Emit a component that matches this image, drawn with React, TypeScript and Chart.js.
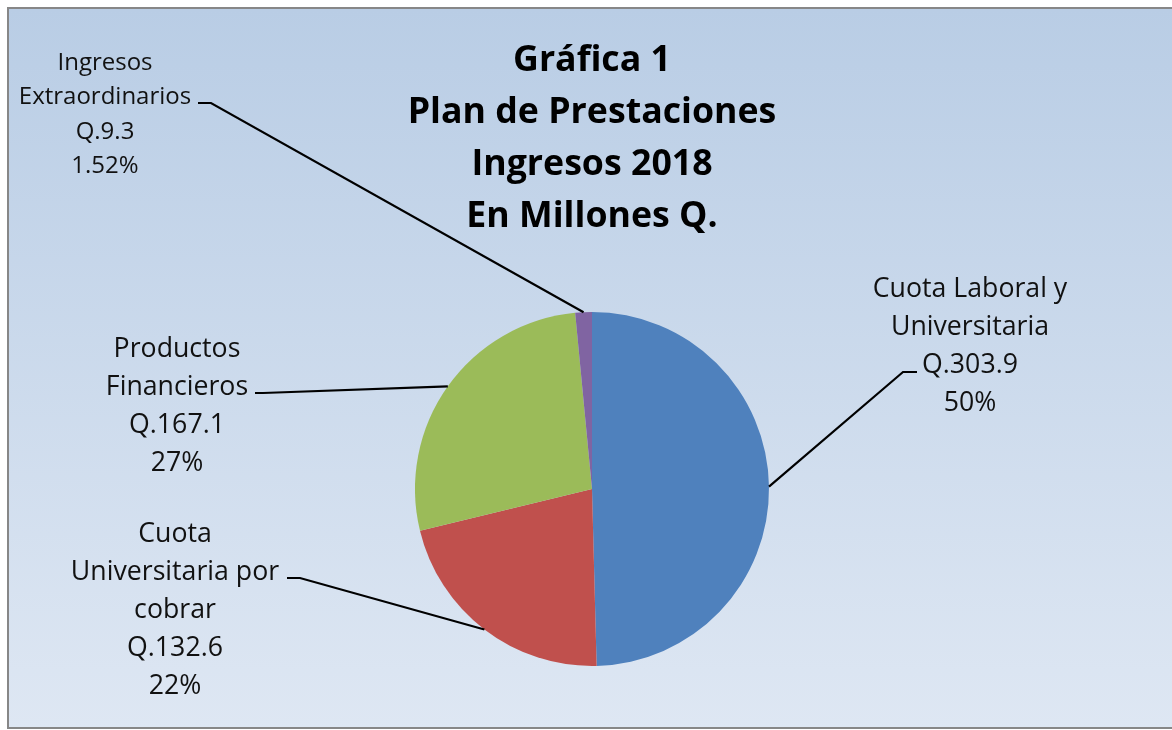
import React, { useEffect, useRef } from "react";
import { Chart, registerables } from "chart.js";

Chart.register(...registerables);

const categories: string[][] = [
  ["Cuota Laboral y", "Universitaria"],
  ["Cuota", "Universitaria por", "cobrar"],
  ["Productos", "Financieros"],
  ["Ingresos", "Extraordinarios"],
];
const values: number[] = [303.9, 132.6, 167.1, 9.3];
const valueLabels: string[] = ["Q.303.9", "Q.132.6", "Q.167.1", "Q.9.3"];
const percentLabels: string[] = ["50%", "22%", "27%", "1.52%"];
const titleLines: string[] = ["Gráfica 1", "Plan de Prestaciones", "Ingresos 2018", "En Millones Q."];
const colors: string[] = ["#4f81bd", "#c0504d", "#9bbb59", "#8064a2"];

// label layout: text center x, first line center y, line height, font size, stub text-side point, elbow point
const labelLayout = [
  { cx: 970, y0: 289, lh: 38, fs: 26.7, stubA: [917, 372], stubB: [903, 372] },
  { cx: 175, y0: 534, lh: 38, fs: 26.7, stubA: [287, 578], stubB: [300, 578] },
  { cx: 177, y0: 349, lh: 38, fs: 26.7, stubA: [255, 393], stubB: [263, 393] },
  { cx: 105, y0: 63, lh: 34.5, fs: 24, stubA: [198, 103], stubB: [211, 103] },
];

const FONT = "'Open Sans', Lato, sans-serif";

const labelsPlugin = {
  id: "customLabels",
  afterDraw(chart: any) {
    const ctx = chart.ctx as CanvasRenderingContext2D;
    ctx.save();
    // title
    ctx.fillStyle = "#000";
    ctx.textAlign = "center";
    ctx.textBaseline = "middle";
    ctx.font = `bold 35.7px ${FONT}`;
    titleLines.forEach((t, i) => ctx.fillText(t, 592, 61 + i * 52));

    const meta = chart.getDatasetMeta(0);
    meta.data.forEach((arc: any, i: number) => {
      const L = labelLayout[i];
      const p = arc.getProps(["x", "y", "startAngle", "endAngle", "outerRadius"], true);
      const mid = (p.startAngle + p.endAngle) / 2;
      const ex = p.x + Math.cos(mid) * p.outerRadius;
      const ey = p.y + Math.sin(mid) * p.outerRadius;
      ctx.strokeStyle = "#000";
      ctx.lineWidth = 2.2;
      ctx.beginPath();
      ctx.moveTo(L.stubA[0], L.stubA[1]);
      ctx.lineTo(L.stubB[0], L.stubB[1]);
      ctx.lineTo(ex, ey);
      ctx.stroke();

      const lines = [...categories[i], valueLabels[i], percentLabels[i]];
      ctx.font = `${L.fs}px ${FONT}`;
      ctx.fillStyle = "#111";
      lines.forEach((t, j) => ctx.fillText(t, L.cx, L.y0 + j * L.lh));
    });
    ctx.restore();
  },
};

export default function App() {
  const ref = useRef<HTMLCanvasElement | null>(null);
  useEffect(() => {
    if (!ref.current) return;
    const chart = new Chart(ref.current, {
      type: "pie",
      data: {
        labels: categories.map((c) => c.join(" ")),
        datasets: [
          {
            data: values,
            backgroundColor: colors,
            borderWidth: 0,
          },
        ],
      },
      options: {
        responsive: false,
        animation: false,
        devicePixelRatio: 1,
        rotation: 0,
        layout: { padding: { left: 415, right: 403, top: 312, bottom: 64 } },
        plugins: {
          legend: { display: false },
          tooltip: { enabled: false },
          title: { display: false },
        },
      },
      plugins: [labelsPlugin],
    });
    return () => chart.destroy();
  }, []);

  return (
    <div style={{ position: "fixed", left: 0, top: 0, width: 1172, height: 730, background: "#fff" }}>
      <div
        style={{
          position: "absolute",
          left: 7,
          top: 7,
          width: 1180,
          height: 718,
          border: "2px solid #878787",
          background: "linear-gradient(to bottom, #b9cde5 0%, #dee7f3 100%)",
        }}
      />
      <canvas ref={ref} width={1172} height={730} style={{ position: "absolute", left: 0, top: 0 }} />
    </div>
  );
}
